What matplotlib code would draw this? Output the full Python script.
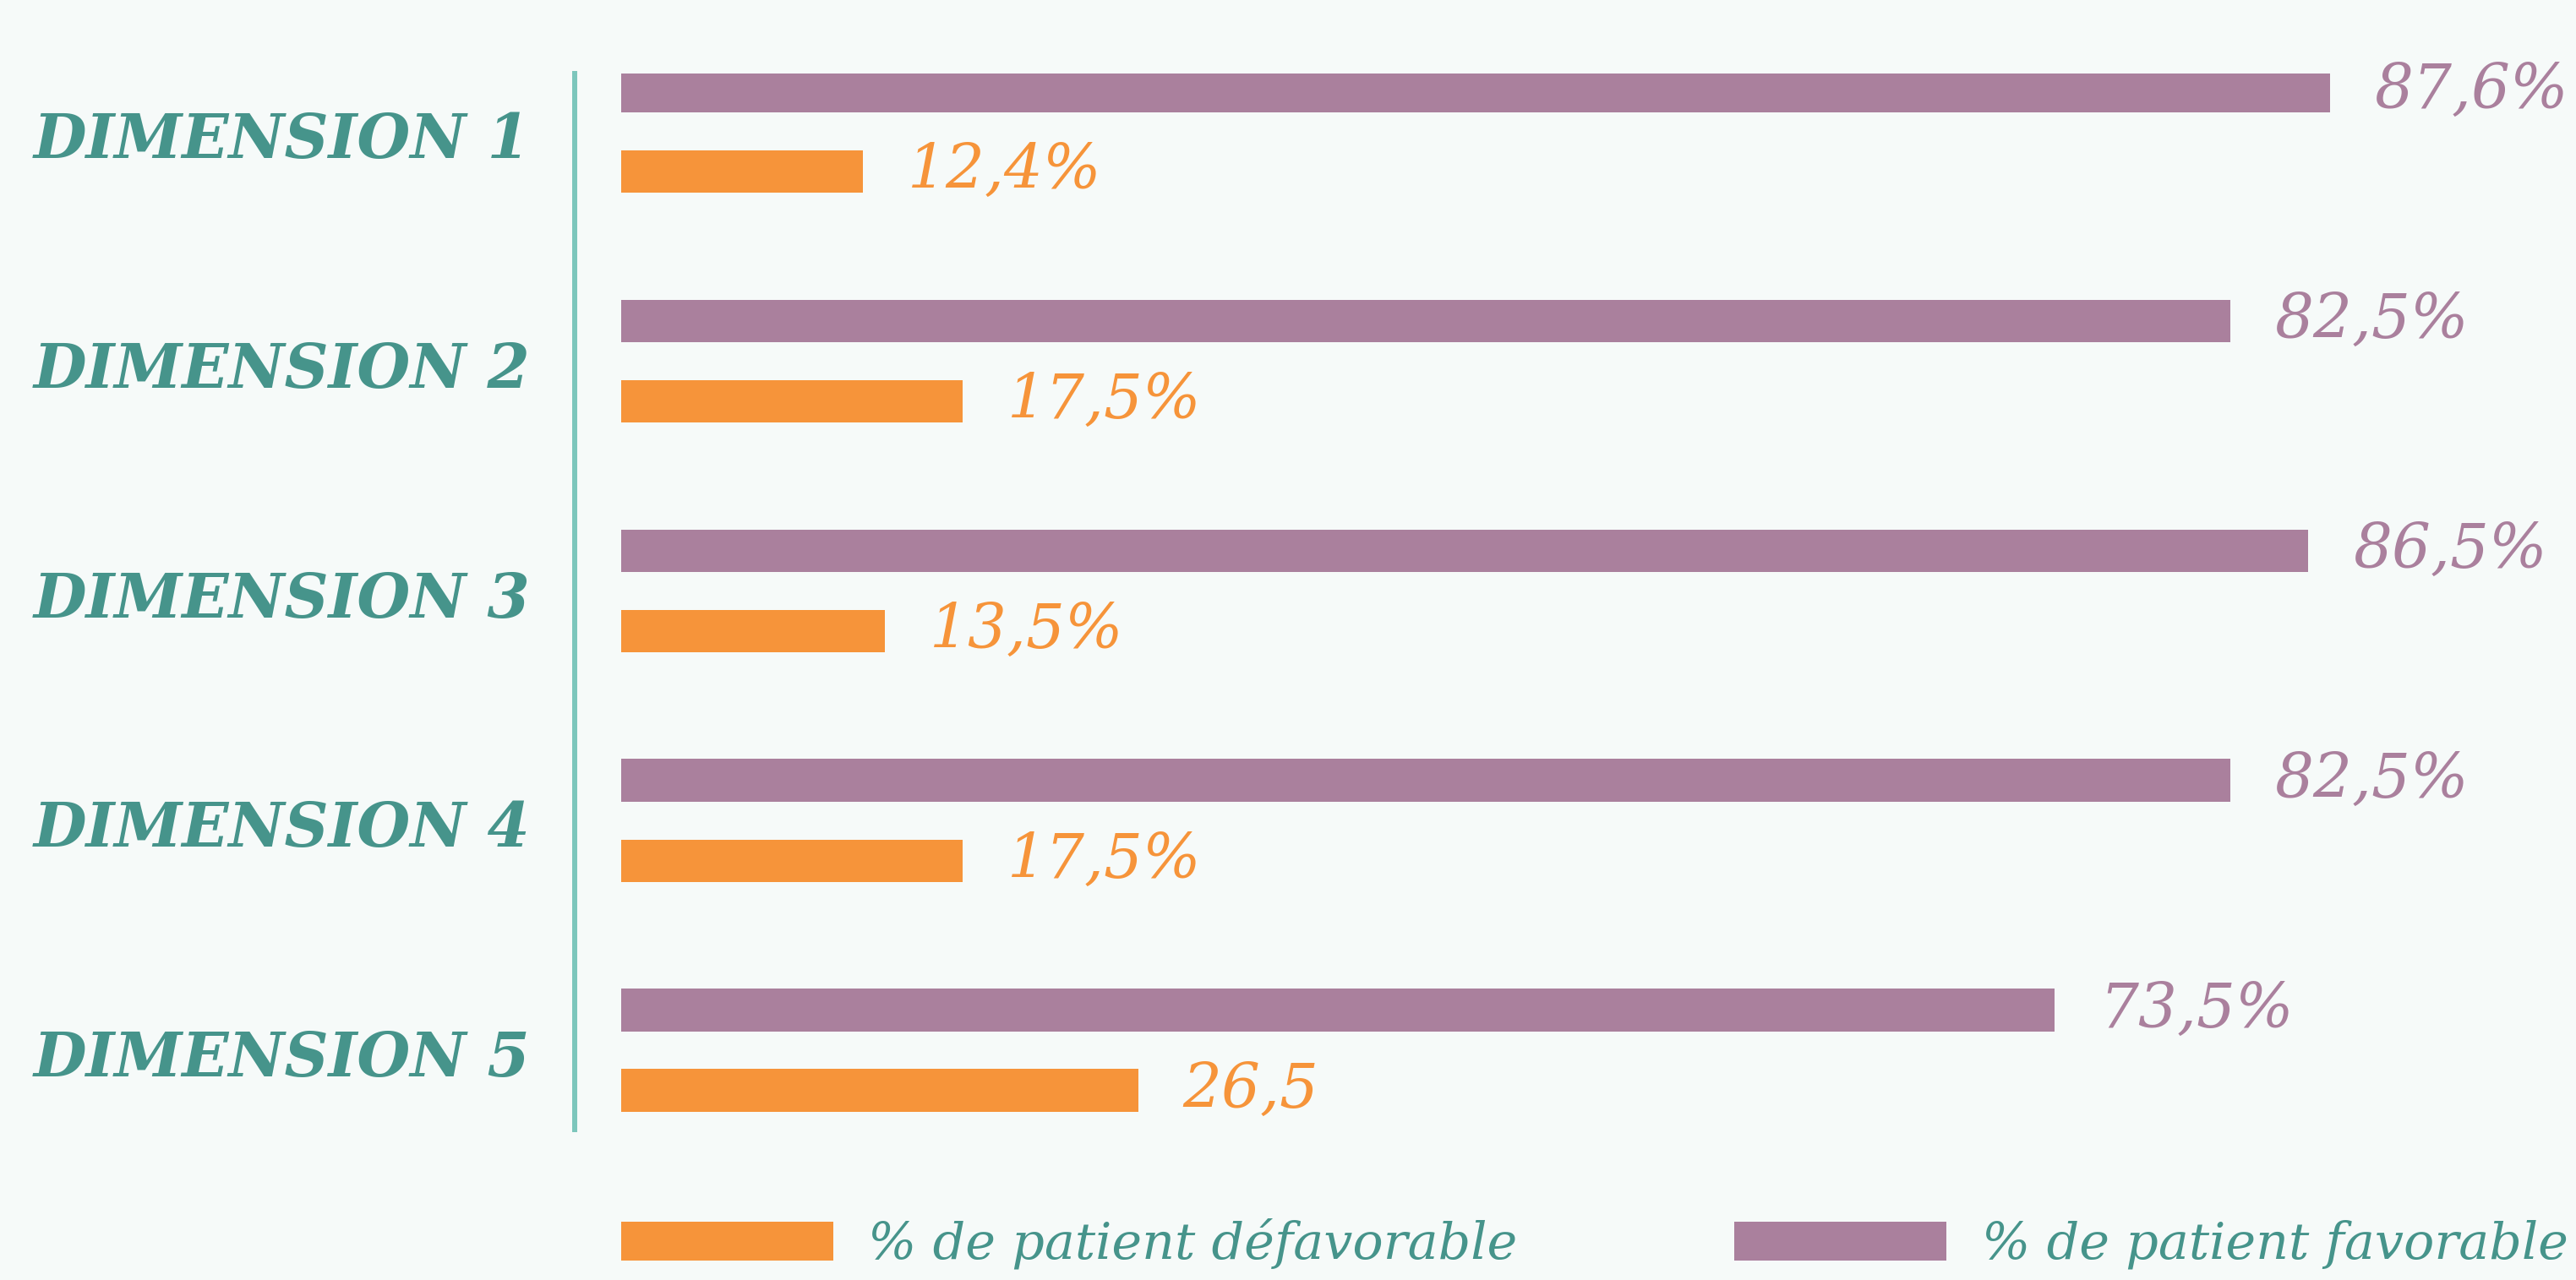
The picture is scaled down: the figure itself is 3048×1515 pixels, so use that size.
import matplotlib
matplotlib.use("Agg")
import matplotlib.pyplot as plt
import matplotlib.transforms as mtransforms
from matplotlib.patches import Patch
import numpy as np

categories = ["DIMENSION 1", "DIMENSION 2", "DIMENSION 3", "DIMENSION 4", "DIMENSION 5"]
favorable = [87.6, 82.5, 86.5, 82.5, 73.5]
defavorable = [12.4, 17.5, 13.5, 17.5, 26.5]
favorable_labels = ["87,6%", "82,5%", "86,5%", "82,5%", "73,5%"]
defavorable_labels = ["12,4%", "17,5%", "13,5%", "17,5%", "26,5"]
legend_labels = ["% de patient défavorable", "% de patient favorable"]

BG = "#F6FAF9"
PURPLE = "#AA809D"
ORANGE = "#F6943A"
TEAL = "#46948B"
SPINE = "#7CC6BC"

W, H = 3048, 1515
fig = plt.figure(figsize=(W / 100, H / 100), dpi=100, facecolor=BG)
left_px, right_px, top_px, bot_px = 680, 3048, 87, 1337
ax = fig.add_axes([left_px / W, 1 - bot_px / H, (right_px - left_px) / W, (bot_px - top_px) / H])
ax.set_facecolor(BG)

px_per_unit = 23.08
ax.set_xlim(-55 / px_per_unit, (right_px - left_px - 55) / px_per_unit)
ax.set_ylim(4.346, -0.252)

y = np.arange(len(categories))
off = 0.175
bh = 0.185
ax.barh(y - off, favorable, height=bh, color=PURPLE)
ax.barh(y + off, defavorable, height=bh, color=ORANGE)

vfont = dict(family="DejaVu Serif", style="italic", fontsize=52)
for yi, v, lab in zip(y, favorable, favorable_labels):
    ax.text(v + 2.3, yi - off, lab, color=PURPLE, va="center", ha="left", **vfont)
for yi, v, lab in zip(y, defavorable, defavorable_labels):
    ax.text(v + 2.3, yi + off, lab, color=ORANGE, va="center", ha="left", **vfont)

trans = mtransforms.blended_transform_factory(fig.transFigure, ax.transData)
for yi, cat in zip(y, categories):
    ax.text(40 / W, yi + 0.04, cat, transform=trans, color=TEAL, va="center", ha="left",
            family="DejaVu Serif", fontweight="bold", style="italic", fontsize=52)

for s in ["top", "right", "bottom"]:
    ax.spines[s].set_visible(False)
ax.spines["left"].set_color(SPINE)
ax.spines["left"].set_linewidth(4.3)
ax.set_xticks([])
ax.set_yticks([])

handles = [Patch(facecolor=ORANGE), Patch(facecolor=PURPLE)]
leg = fig.legend(handles, legend_labels, loc="center left", bbox_to_anchor=(735 / W, 1 - 1472 / H),
                 ncol=2, frameon=False, borderaxespad=0, borderpad=0,
                 prop=dict(family="DejaVu Serif", style="italic", size=43.5),
                 handlelength=4.15, handleheight=0.8, handletextpad=0.69, columnspacing=4.25)
for t in leg.get_texts():
    t.set_color(TEAL)

fig.savefig("out.png", dpi=100, facecolor=BG)
